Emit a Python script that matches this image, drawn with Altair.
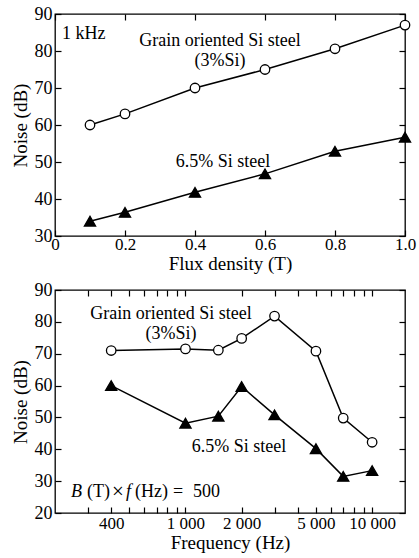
import altair as alt
import pandas as pd

# ---------- data ----------
flux = [0.1, 0.2, 0.4, 0.6, 0.8, 1.0]
flux_go = [60, 63, 70, 75, 80.6, 87]
flux_65 = [34, 36.4, 41.8, 46.8, 52.9, 56.7]

freq_go_x = [400, 1000, 1500, 2000, 3000, 5000, 7000, 10000]
freq_go_y = [71, 71.5, 71.1, 74.8, 81.8, 70.8, 49.8, 42.2]
freq_65_x = [400, 1000, 1500, 2000, 3000, 5000, 7000, 10000]
freq_65_y = [60, 48.2, 50.4, 59.7, 50.8, 40.2, 31.5, 33.3]

series_names = ["Grain oriented", "6.5% Si"]

flux_ticks = [0, 0.2, 0.4, 0.6, 0.8, 1.0]
noise_ticks_top = [30, 40, 50, 60, 70, 80, 90]
noise_ticks_bot = [20, 30, 40, 50, 60, 70, 80, 90]
freq_ticks = [300, 400, 500, 600, 700, 800, 900, 1000,
              2000, 3000, 4000, 5000, 6000, 7000, 8000, 9000, 10000]
freq_labels = [400, 1000, 2000, 5000, 10000]

FONT = "Liberation Serif"
W, H1, H2 = 350, 222, 223
TK = 6

df_top = pd.DataFrame({
    "x": flux + flux,
    "y": flux_go + flux_65,
    "s": [series_names[0]] * len(flux) + [series_names[1]] * len(flux),
})
df_bot = pd.DataFrame({
    "x": freq_go_x + freq_65_x,
    "y": freq_go_y + freq_65_y,
    "s": [series_names[0]] * len(freq_go_x) + [series_names[1]] * len(freq_65_x),
})

shape_scale = alt.Scale(domain=series_names, range=["circle", "triangle-up"])
fill_scale = alt.Scale(domain=series_names, range=["white", "black"])
size_scale = alt.Scale(domain=series_names, range=[90, 125])


def axis_main(orient, values, title, labelExpr=None, padding=3, titlePadding=4, lfs=18):
    kw = dict(
        orient=orient, values=values, title=title, grid=False, domain=False,
        tickSize=TK, offset=-TK, tickColor="black", tickWidth=1.2,
        labelFont=FONT, labelFontSize=lfs, labelColor="black", labelFontWeight="normal",
        labelPadding=padding, titleFont=FONT, titleFontSize=19,
        titleFontWeight="normal", titleColor="black", titlePadding=titlePadding,
        labelFlush=False, labelOverlap=False,
    )
    if labelExpr is not None:
        kw["labelExpr"] = labelExpr
    return alt.Axis(**kw)


def axis_side(orient, values):
    return alt.Axis(
        orient=orient, values=values, title=None, grid=False, domain=False,
        labels=False, tickSize=TK, offset=-TK, tickColor="black", tickWidth=1.2,
    )


def panel(df, xscale, yscale, xvals, yvals, xtitle, xlabelexpr, height, texts,
          xlp, xtp):
    base = alt.Chart(df).encode(
        x=alt.X("x:Q", scale=xscale,
                axis=axis_main("bottom", xvals, xtitle, xlabelexpr, padding=xlp,
                               titlePadding=xtp, lfs=17)),
        y=alt.Y("y:Q", scale=yscale,
                axis=axis_main("left", yvals, "Noise (dB)", padding=3, titlePadding=4)),
    )
    line = base.mark_line(color="black", strokeWidth=1.5).encode(detail="s:N")
    pts = base.mark_point(filled=True, stroke="black", strokeWidth=1.3, opacity=1).encode(
        shape=alt.Shape("s:N", scale=shape_scale, legend=None),
        fill=alt.Fill("s:N", scale=fill_scale, legend=None),
        size=alt.Size("s:N", scale=size_scale, legend=None),
    )
    side = alt.Chart(df).mark_point(opacity=0).encode(
        x=alt.X("x:Q", scale=xscale, axis=axis_side("top", xvals)),
        y=alt.Y("y:Q", scale=yscale, axis=axis_side("right", yvals)),
    )
    layers = [line, pts]
    for (txt, px, py, align, italic, fs) in texts:
        layers.append(
            alt.Chart(pd.DataFrame({"t": [txt]})).mark_text(
                x=px, y=py, align=align, baseline="middle",
                font=FONT, fontSize=fs, color="black", fontWeight="normal",
                fontStyle="italic" if italic else "normal",
            ).encode(text="t:N")
        )
    main = alt.layer(*layers)
    return alt.layer(main, side).resolve_axis(x="independent", y="independent").properties(
        width=W, height=height
    )


top_texts = [
    ("1 kHz", 7, 20, "left", False, 18),
    ("Grain oriented Si steel", 165, 27, "center", False, 18),
    ("(3%Si)", 165, 47, "center", False, 18),
    ("6.5% Si steel", 168, 148, "center", False, 18),
]
bot_texts = [
    ("Grain oriented Si steel", 116, 24, "center", False, 18),
    ("(3%Si)", 116, 44, "center", False, 18),
    ("6.5% Si steel", 184, 157, "center", False, 18),
    ("B", 16, 202, "left", True, 18),
    ("(T)", 32, 202, "left", False, 18),
    ("\u00d7", 57, 202, "left", False, 21),
    ("f", 71, 202, "left", True, 18),
    ("(Hz)", 80, 202, "left", False, 18),
    ("=", 118, 202, "left", False, 18),
    ("500", 138, 202, "left", False, 18),
]

top = panel(
    df_top,
    alt.Scale(domain=[0, 1.0], nice=False),
    alt.Scale(domain=[30, 90], nice=False),
    flux_ticks, noise_ticks_top, "Flux density (T)",
    "datum.value == 0 ? '0' : format(datum.value, '.1f')",
    H1, top_texts, 0, 2,
)

bot = panel(
    df_bot,
    alt.Scale(type="log", domain=[200, 15000], nice=False),
    alt.Scale(domain=[20, 90], nice=False),
    freq_ticks, noise_ticks_bot, "Frequency (Hz)",
    "indexof(" + str(freq_labels) + ", datum.value) >= 0 ? replace(format(datum.value, ','), ',', ' ') : ''",
    H2, bot_texts, 2, 2,
)

chart = alt.vconcat(top, bot, spacing=6).properties(
    padding={"left": 10, "top": 4, "right": 0, "bottom": 2},
    background="white",
).configure_view(stroke="black", strokeWidth=1.3).configure_concat(spacing=6)

chart.save("out.html", embed_options={"renderer": "svg", "actions": False})
